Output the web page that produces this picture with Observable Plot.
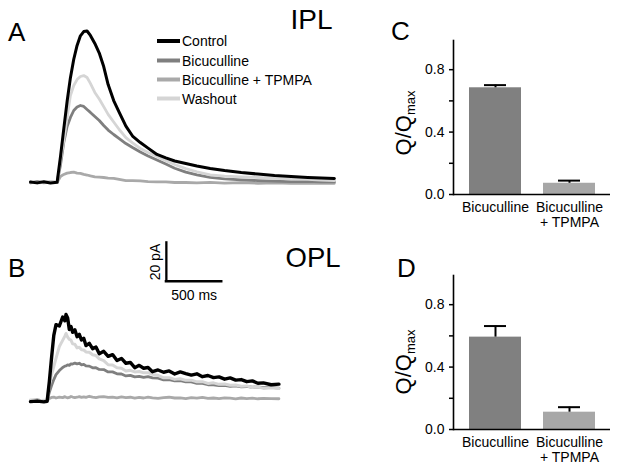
<!DOCTYPE html>
<html><head><meta charset="utf-8">
<script src="https://cdn.jsdelivr.net/npm/d3@7"></script>
<script src="https://cdn.jsdelivr.net/npm/@observablehq/plot@0.6"></script>
<style>
body{margin:0;background:#fff;}
#fig{position:relative;width:619px;height:470px;overflow:hidden;background:#fff;font-family:"Liberation Sans",Arial,sans-serif;}
#fig svg{position:absolute;}
</style></head><body><div id="fig"></div>
<script>
// ---------- data ----------
const seriesNames = ["Control", "Bicuculline", "Bicuculline + TPMPA", "Washout"];

// Panel A (IPL) traces: time in ms, current in pA
const timeA = [0,60,120,180,240,270,300,330,360,390,420,450,480,510,540,580,620,660,700,750,800,860,920,990,1060,1140,1220,1300,1400,1500,1620,1750,1900,2050,2200,2350,2500,2620,2740];
const controlA = [0.3,-0.2,0.4,-0.3,0.1,13.3,27.9,42.2,54.6,64.2,71.4,76.4,78.6,78.9,76.6,72.4,67.4,60.4,51.0,42.7,36.5,29.4,24.2,20.8,17.9,14.6,12.8,11.2,9.9,8.6,7.3,6.2,5.2,4.4,3.6,3.1,2.6,2.3,2.1];
const bicucullineA = [-0.2,0.4,-0.1,0.3,0,8.9,20.8,29.2,33.9,37.5,39.3,40.1,39.6,38.0,36.5,34.4,32.3,29.7,27.3,25.0,22.9,20.3,18.2,15.9,13.8,11.7,9.6,7.4,5.4,4.0,2.7,1.9,1.4,1.0,0.7,0.5,0.6,0.3,0.3];
const tpmpaA = [-0.1,0.3,-0.2,0.2,0,3.1,4.2,4.9,5.2,5.4,4.9,4.7,4.2,3.9,3.4,2.9,2.8,2.6,2.3,2.1,1.6,1.0,1.0,0.8,0.5,0.3,0.3,0,0,-0.2,0.1,-0.3,-0.1,-0.4,-0.2,-0.4,-0.3,-0.5,-0.4];
const washoutA = [0.2,-0.3,0.1,0.4,-0.1,11.5,21.9,33.9,45.3,50.5,53.6,55.2,55.7,54.7,51.6,46.9,43.5,39.5,35.5,31.5,27.6,23.4,20.6,17.7,15.6,13.5,11.3,9.4,7.2,5.6,4.0,3.3,2.9,2.6,2.1,1.8,1.6,1.3,1.0];

// Panel B (OPL) traces
const timeB = [0,60,120,150,170,190,210,230,260,290,310,320,335,350,365,380,400,420,440,460,480,500,530,560,590,620,660,700,740,780,820,860,900,940,980,1020,1060,1100,1150,1200,1250,1300,1350,1400,1450,1500,1550,1600,1650,1700,1750,1800,1850,1900,1950,2000,2050,2100,2170,2240];
const controlB = [-0.6,-0.3,-0.7,-0.4,9.9,22.4,33.9,39.5,38.8,43.5,41.5,44.8,43.0,37.0,38.5,35.5,36.8,33.2,34.5,31.5,32.4,28.6,29.8,27.0,27.9,24.4,25.6,23.0,23.9,20.8,21.9,19.4,19.8,17.1,18.3,16.8,17.2,15.0,15.9,14.7,15.4,13.8,14.9,14.0,13.2,13.9,12.4,13.0,11.9,12.3,11.1,11.8,10.6,10.9,9.8,10.2,9.0,9.2,8.2,8.5];
const bicucullineB = [0,0.3,-0.2,0,4.2,7.8,10.9,13.5,15.6,17.2,17.9,18.0,18.6,18.3,19.1,19.0,19.5,19.1,19.4,18.6,18.8,18.0,17.9,17.0,17.1,16.2,16.1,14.9,14.9,13.9,13.8,12.8,13.1,12.3,12.6,12.0,12.4,11.8,11.6,10.7,10.9,10.2,10.4,9.7,9.7,8.9,8.9,8.2,8.2,7.7,7.9,7.4,7.6,7.1,7.3,6.9,7.1,6.7,6.8,6.4];
const tpmpaB = [-0.3,0.2,-0.4,0,1.0,1.6,1.8,1.3,1.8,1.5,2.0,1.7,1.4,1.6,2.1,1.8,1.5,1.7,2.0,1.6,1.9,1.6,2.2,1.8,1.5,1.9,2.0,1.6,1.8,1.4,1.9,1.5,1.7,1.2,1.6,1.3,1.8,1.4,1.1,1.5,1.7,1.3,1.4,1.0,1.5,1.2,1.6,1.1,1.3,1.0,1.4,1.2,0.9,1.3,1.0,1.2,0.9,1.1,1.0,0.9];
const washoutB = [0.2,-0.2,0.1,0,7.8,13.5,17.7,21.9,28.1,31.3,33.5,34.9,33.0,31.8,31.4,29.5,29.3,27.4,27.7,26.4,26.3,25.3,25.1,23.8,23.4,21.7,20.8,18.6,18.5,17.0,16.8,15.4,15.7,14.9,15.1,14.4,14.5,13.6,13.1,11.8,11.9,11.0,11.3,10.5,10.6,9.7,9.8,8.9,9.2,8.4,8.6,7.9,8.1,7.4,7.6,6.8,7.1,6.3,6.6,6.2];

// Scale bar (drawn in panel B's data units)
const scaleBarTime = 500;   // ms
const scaleBarAmp = 20;     // pA
const scaleBarOrigin = [1225, 62.1];

// Bar charts: Q/Qmax
const barCategories = ["Bicuculline", "Bicuculline + TPMPA"];
const barLabels = ["Bicuculline", "Bicuculline\n+ TPMPA"];
const iplMean = [0.684, 0.072];
const iplSem = [0.017, 0.017];
const oplMean = [0.592, 0.111];
const oplSem = [0.071, 0.032];
const yTicks = [0, 0.2, 0.4, 0.6, 0.8];
const yTickLabels = ["0.0", "", "0.4", "", "0.8"];

// ---------- style ----------
const FONT = '"Liberation Sans", Arial, sans-serif';
const traceColors = ["#000000", "#7f7f7f", "#a9a9a9", "#d5d5d5"];
const barColors = ["#808080", "#a7a7a7"];
const drawOrder = [2, 1, 3, 0];

const fig = d3.select("#fig");

function tracePlot(time, series, opts) {
  const marks = drawOrder.map(k => Plot.line(
    time.map((t, i) => ({t, v: series[k][i]})),
    {x: "t", y: "v", stroke: traceColors[k], strokeWidth: opts.widths[k], strokeLinejoin: "round"}
  ));
  return Plot.plot({
    width: 345, height: opts.height,
    marginLeft: 30, marginRight: 10, marginTop: 0, marginBottom: opts.marginBottom,
    x: {domain: [0, 2750], axis: null},
    y: {domain: opts.yDomain, axis: null},
    style: {fontFamily: FONT, background: "transparent", color: "black"},
    marks: [...marks, ...(opts.extra || [])]
  });
}

const plotA = tracePlot(timeA, [controlA, bicucullineA, tpmpaA, washoutA],
  {height: 200, marginBottom: 10, yDomain: [-4.17, 94.79], widths: [3, 2.8, 2.8, 2.8]});
plotA.style.left = "0px"; plotA.style.top = "0px";
fig.node().appendChild(plotA);

const [sx, sy] = scaleBarOrigin;
const plotB = tracePlot(timeB, [controlB, bicucullineB, tpmpaB, washoutB], {
  height: 175, marginBottom: 5, yDomain: [-5.21, 83.33], widths: [3.4, 2.8, 2.8, 3],
  extra: [
    Plot.ruleX([sx], {y1: sy, y2: sy + scaleBarAmp, stroke: "black", strokeWidth: 2.3, strokeLinecap: "square"}),
    Plot.ruleY([sy], {x1: sx, x2: sx + scaleBarTime, stroke: "black", strokeWidth: 2.3, strokeLinecap: "square"}),
    Plot.text([`${scaleBarAmp} pA`], {x: sx, y: sy + scaleBarAmp / 2, dx: -11, rotate: -90, fontSize: 14, fill: "black"}),
    Plot.text([`${scaleBarTime} ms`], {x: sx + scaleBarTime / 2, y: sy, dy: 14, fontSize: 14, fill: "black"})
  ]
});
plotB.style.left = "0px"; plotB.style.top = "240px";
fig.node().appendChild(plotB);

function barPlot(means, sems) {
  const data = barCategories.map((c, i) => ({c, m: means[i], top: means[i] + sems[i]}));
  return Plot.plot({
    width: 239, height: 215,
    marginLeft: 73, marginRight: 9, marginTop: 20, marginBottom: 41,
    x: {domain: barCategories, paddingInner: 0.3, paddingOuter: 0.2},
    y: {domain: [0, 0.987]},
    color: {domain: barCategories, range: barColors},
    style: {fontFamily: FONT, background: "transparent", color: "black"},
    marks: [
      Plot.barY(data, {x: "c", y: "m", fill: "c"}),
      Plot.ruleX(data, {x: "c", y1: "m", y2: "top", stroke: "black", strokeWidth: 2}),
      Plot.tickY(data, {x: "c", y: "top", insetLeft: 15, insetRight: 15, stroke: "black", strokeWidth: 2}),
      Plot.ruleY([0], {stroke: "black", strokeWidth: 1.6}),
      Plot.frame({anchor: "left", stroke: "black", strokeWidth: 1.6}),
      Plot.axisY({ticks: yTicks, tickFormat: d => yTickLabels[yTicks.indexOf(d)] ?? "", tickSize: 4, tickPadding: 5, fontSize: 14, strokeWidth: 1.5, label: null}),
      Plot.axisX({tickSize: 0, tickPadding: 6, fontSize: 14, lineHeight: 1.12, tickFormat: c => barLabels[barCategories.indexOf(c)], label: null})
    ]
  });
}

const plotC = barPlot(iplMean, iplSem);
plotC.style.left = "380px"; plotC.style.top = "20px";
fig.node().appendChild(plotC);

const plotD = barPlot(oplMean, oplSem);
plotD.style.left = "380px"; plotD.style.top = "255px";
fig.node().appendChild(plotD);

// ---------- overlay text: panel letters, titles, legend, y labels ----------
const ov = fig.append("svg").attr("width", 619).attr("height", 470)
  .style("left", "0px").style("top", "0px").style("font-family", FONT);

const letters = [["A", 8, 41], ["B", 8, 277], ["C", 391, 40], ["D", 397, 277]];
letters.forEach(([t, x, y]) => ov.append("text").attr("x", x).attr("y", y).attr("font-size", 26).text(t));
ov.append("text").attr("x", 290.5).attr("y", 28.5).attr("font-size", 28).text("IPL");
ov.append("text").attr("x", 285.5).attr("y", 267).attr("font-size", 27.5).text("OPL");

const legendY = [41, 60.5, 79.5, 98.5];
seriesNames.forEach((name, i) => {
  ov.append("line").attr("x1", 157).attr("x2", 180).attr("y1", legendY[i]).attr("y2", legendY[i])
    .attr("stroke", traceColors[i]).attr("stroke-width", 4);
  ov.append("text").attr("x", 182).attr("y", legendY[i] + 5).attr("font-size", 14).text(name);
});

[[411, 123], [411, 362]].forEach(([x, y]) => {
  const t = ov.append("text").attr("transform", `translate(${x},${y}) rotate(-90)`).attr("text-anchor", "middle");
  t.append("tspan").attr("font-size", 22).text("Q/Q");
  t.append("tspan").attr("font-size", 13).attr("dy", 4).text("max");
});
</script>
</body></html>
